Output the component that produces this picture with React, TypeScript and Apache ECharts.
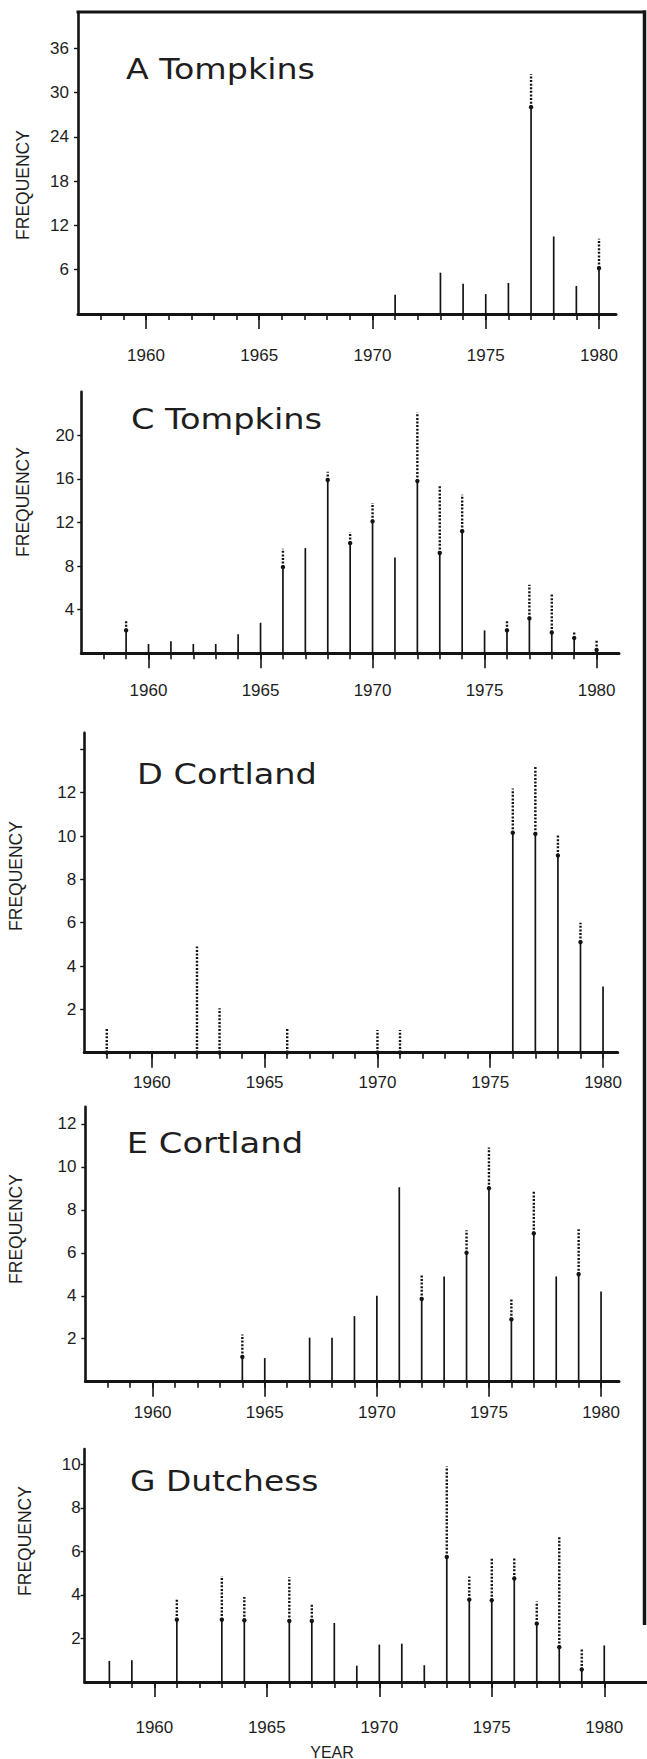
import React, { useEffect, useRef } from "react";
import * as echarts from "echarts";

// ---------------- data ----------------
const tickYears = [1958, 1959, 1960, 1961, 1962, 1963, 1964, 1965, 1966, 1967, 1968, 1969, 1970, 1971, 1972, 1973, 1974, 1975, 1976, 1977, 1978, 1979, 1980];
const labelYears = [1960, 1965, 1970, 1975, 1980];

const yearsA = [1971, 1973, 1974, 1975, 1976, 1977, 1978, 1979, 1980];
const countsA = [2.6, 5.6, 4.1, 2.7, 4.2, 28, 10.5, 3.8, 6.2];
const upperA = [null, null, null, null, null, 32.5, null, null, 10.2];
const yTicksA = [6, 12, 18, 24, 30, 36];

const yearsC = [1959, 1960, 1961, 1962, 1963, 1964, 1965, 1966, 1967, 1968, 1969, 1970, 1971, 1972, 1973, 1974, 1975, 1976, 1977, 1978, 1979, 1980];
const countsC = [2.1, 0.85, 1.1, 0.85, 0.85, 1.75, 2.8, 7.9, 9.65, 15.9, 10.1, 12.1, 8.8, 15.8, 9.2, 11.2, 2.1, 2.1, 3.2, 1.9, 1.4, 0.3];
const upperC = [3.0, null, null, null, null, null, null, 9.6, null, 16.65, 11.1, 13.8, null, 22.1, 15.4, 14.55, null, 3.1, 6.3, 5.5, 2.0, 1.2];
const yTicksC = [4, 8, 12, 16, 20];

const yearsD = [1958, 1962, 1963, 1966, 1970, 1971, 1976, 1977, 1978, 1979, 1980];
const countsD = [0, 0, 0, 0, 0, 0, 10.15, 10.1, 9.1, 5.1, 3.05];
const upperD = [1.1, 4.9, 2.05, 1.1, 1.05, 1.05, 12.2, 13.2, 10.1, 6.0, null];
const yTicksD = [2, 4, 6, 8, 10, 12, 14];
const yLabelsD = [2, 4, 6, 8, 10, 12];

const yearsE = [1964, 1965, 1967, 1968, 1969, 1970, 1971, 1972, 1973, 1974, 1975, 1976, 1977, 1978, 1979, 1980];
const countsE = [1.15, 1.1, 2.05, 2.05, 3.05, 4, 9.05, 3.85, 4.9, 6, 9, 2.9, 6.9, 4.9, 5, 4.2];
const upperE = [2.2, null, null, null, null, null, null, 4.95, null, 7.05, 10.9, 3.85, 8.85, null, 7.1, null];
const yTicksE = [2, 4, 6, 8, 10, 12];

const yearsG = [1958, 1959, 1961, 1963, 1964, 1966, 1967, 1968, 1969, 1970, 1971, 1972, 1973, 1974, 1975, 1976, 1977, 1978, 1979, 1980];
const countsG = [0.97, 1.0, 2.86, 2.86, 2.83, 2.8, 2.8, 2.71, 0.75, 1.72, 1.76, 0.77, 5.74, 3.78, 3.75, 4.75, 2.68, 1.6, 0.57, 1.68];
const upperG = [null, null, 3.83, 4.86, 3.9, 4.82, 3.55, null, null, null, null, null, 9.9, 4.85, 5.7, 5.7, 3.7, 6.66, 1.5, null];
const yTicksG = [2, 4, 6, 8, 10];

const panelData = [
  { title: "A Tompkins", years: yearsA, counts: countsA, upper: upperA, yTicks: yTicksA, yLabels: yTicksA },
  { title: "C Tompkins", years: yearsC, counts: countsC, upper: upperC, yTicks: yTicksC, yLabels: yTicksC },
  { title: "D Cortland", years: yearsD, counts: countsD, upper: upperD, yTicks: yTicksD, yLabels: yLabelsD },
  { title: "E Cortland", years: yearsE, counts: countsE, upper: upperE, yTicks: yTicksE, yLabels: yTicksE },
  { title: "G Dutchess", years: yearsG, counts: countsG, upper: upperG, yTicks: yTicksG, yLabels: yTicksG },
];

// ---------------- layout ----------------
const W = 647;
const H = 1759;
const INK = "#141414";
const TEXT = "#1e1e1e";
const FONT = "Liberation Sans, Arial, sans-serif";
const TITLE_FONT = "DejaVu Sans";
const TITLE_SIZE = 29;

const layout = [
  { left: 78, top: 12, width: 538, height: 302, xMin: 1957, xMax: 1980.75, yMax: 40.9, xMargin: 33, yMargin: 9, tx: 126, ty: 78.3, tw: 189, fx: 23, fy: 185 },
  { left: 81.3, top: 391.7, width: 537.7, height: 261.6, xMin: 1957, xMax: 1981, yMax: 24, xMargin: 29, yMargin: 7, tx: 131, ty: 428.3, tw: 191, fx: 23, fy: 502 },
  { left: 84.2, top: 732.7, width: 533.5, height: 320, xMin: 1957, xMax: 1980.65, yMax: 14.77, xMargin: 21, yMargin: 8, tx: 137, ty: 783.3, tw: 180, fx: 16, fy: 876 },
  { left: 85.4, top: 1106.7, width: 533.6, height: 275, xMin: 1957, xMax: 1980.8, yMax: 12.8, xMargin: 22, yMargin: 9, tx: 126.7, ty: 1152.3, tw: 176.6, fx: 16, fy: 1229 },
  { left: 84.6, top: 1449, width: 562.4, height: 233, xMin: 1956.9, xMax: 1981.9, yMax: 10.7, xMargin: 37, yMargin: 4, tx: 130, ty: 1491, tw: 188.5, fx: 25, fy: 1541 },
];

function measure(text: string, font: string): number {
  const c = document.createElement("canvas");
  const ctx = c.getContext("2d");
  if (!ctx) return text.length * 16;
  ctx.font = font;
  return ctx.measureText(text).width;
}

function renderBar(params: any, api: any) {
  const x = api.value(0);
  const c = api.value(1);
  const u = api.value(2);
  const p0 = api.coord([x, 0]);
  const p1 = api.coord([x, c]);
  const p2 = api.coord([x, u]);
  const children: any[] = [];
  if (c > 0) {
    children.push({
      type: "line",
      shape: { x1: p0[0], y1: p0[1], x2: p1[0], y2: p1[1] },
      style: { stroke: INK, lineWidth: 1.7 },
    });
  }
  if (u > c) {
    children.push({
      type: "line",
      shape: { x1: p1[0], y1: p1[1], x2: p2[0], y2: p2[1] },
      style: { stroke: INK, lineWidth: 2.4, lineDash: [2, 1.6] },
    });
    children.push({
      type: "circle",
      shape: { cx: p1[0], cy: p1[1], r: 2.2 },
      style: { fill: INK },
    });
  }
  return { type: "group", children };
}

export default function App() {
  const ref = useRef<HTMLDivElement>(null);

  useEffect(() => {
    if (!ref.current) return;
    const chart = echarts.init(ref.current, undefined, { renderer: "svg" });

    const grids: any[] = [];
    const xAxes: any[] = [];
    const yAxes: any[] = [];
    const series: any[] = [];
    const graphics: any[] = [];

    panelData.forEach((p, i) => {
      const L = layout[i];
      grids.push({ left: L.left, top: L.top, width: L.width, height: L.height, containLabel: false, outerBoundsMode: "none" });
      xAxes.push({
        type: "value",
        gridIndex: i,
        min: L.xMin,
        max: L.xMax,
        position: "bottom",
        axisLine: { show: true, onZero: false, lineStyle: { color: INK, width: 3 } },
        axisTick: { show: true, customValues: tickYears, length: 6, lineStyle: { color: INK, width: 1.6 } },
        axisLabel: { show: false },
        splitLine: { show: false },
      });
      xAxes.push({
        type: "value",
        gridIndex: i,
        min: L.xMin,
        max: L.xMax,
        position: "bottom",
        axisLine: { show: false, onZero: false },
        axisTick: { show: true, customValues: labelYears, length: 15, lineStyle: { color: INK, width: 1.6 } },
        axisLabel: {
          show: true,
          customValues: labelYears,
          margin: L.xMargin,
          fontSize: 17,
          fontFamily: FONT,
          color: TEXT,
          formatter: (v: number) => String(v),
        },
        splitLine: { show: false },
      });
      yAxes.push({
        type: "value",
        gridIndex: i,
        min: 0,
        max: L.yMax,
        axisLine: { show: true, onZero: false, lineStyle: { color: INK, width: 2.6 } },
        axisTick: { show: true, customValues: p.yTicks, length: 4, lineStyle: { color: INK, width: 1.4 } },
        axisLabel: {
          show: true,
          customValues: p.yLabels,
          margin: L.yMargin,
          fontSize: 17,
          fontFamily: FONT,
          color: TEXT,
          formatter: (v: number) => String(v),
        },
        splitLine: { show: false },
      });
      series.push({
        type: "custom",
        coordinateSystem: "cartesian2d",
        xAxisIndex: 2 * i,
        yAxisIndex: i,
        clip: false,
        renderItem: renderBar,
        encode: { x: 0, y: [1, 2] },
        data: p.years.map((yr, k) => [yr, p.counts[k], p.upper[k] == null ? p.counts[k] : p.upper[k]]),
      });

      const tw = measure(p.title, `${TITLE_SIZE}px "${TITLE_FONT}"`);
      graphics.push({
        type: "text",
        x: L.tx,
        y: L.ty - 0.34 * TITLE_SIZE,
        scaleX: L.tw / tw,
        style: {
          text: p.title,
          fontSize: TITLE_SIZE,
          fontFamily: TITLE_FONT,
          fill: TEXT,
          textAlign: "left",
          textVerticalAlign: "middle",
        },
      });
      graphics.push({
        type: "text",
        x: L.fx,
        y: L.fy,
        rotation: Math.PI / 2,
        style: {
          text: "FREQUENCY",
          fontSize: 17.5,
          fontFamily: FONT,
          fill: TEXT,
          textAlign: "center",
          textVerticalAlign: "middle",
        },
      });
    });

    graphics.push({
      type: "text",
      x: 332,
      y: 1752,
      style: { text: "YEAR", fontSize: 16, fontFamily: FONT, fill: TEXT, textAlign: "center", textVerticalAlign: "middle" },
    });
    // outer frame
    graphics.push({ type: "line", shape: { x1: 76.5, y1: 12, x2: 646, y2: 12 }, style: { stroke: INK, lineWidth: 3.2 } });
    graphics.push({ type: "line", shape: { x1: 644.5, y1: 10.5, x2: 644.5, y2: 1625 }, style: { stroke: INK, lineWidth: 3.5 } });

    chart.setOption({
      animation: false,
      backgroundColor: "#ffffff",
      grid: grids,
      xAxis: xAxes,
      yAxis: yAxes,
      series,
      graphic: graphics,
    });

    return () => chart.dispose();
  }, []);

  return <div ref={ref} style={{ position: "absolute", left: 0, top: 0, width: W, height: H }} />;
}
